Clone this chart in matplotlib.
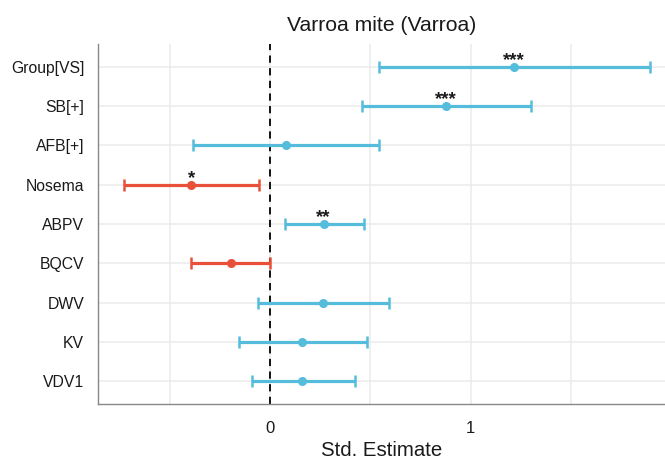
import matplotlib
matplotlib.use("Agg")
import matplotlib.pyplot as plt
import numpy as np

# Model terms, top to bottom
terms = ["Group[VS]", "SB[+]", "AFB[+]", "Nosema", "ABPV", "BQCV", "DWV", "KV", "VDV1"]
estimates = [1.215, 0.875, 0.077, -0.394, 0.266, -0.198, 0.263, 0.158, 0.160]
ci_low = [0.541, 0.456, -0.386, -0.728, 0.073, -0.394, -0.060, -0.158, -0.093]
ci_high = [1.894, 1.299, 0.541, -0.058, 0.467, 0.000, 0.592, 0.481, 0.422]
stars = ["***", "***", "", "*", "**", "", "", "", ""]

x_ticks = [0, 1]
x_minor = [-0.5, 0.5, 1.5]

BLUE = "#55BDDB"
RED = "#E8503A"
TEXT = "#1A1A1A"

plt.rcParams["font.family"] = ["Liberation Sans", "DejaVu Sans"]

fig = plt.figure(figsize=(6.65, 4.61), dpi=100)
ax = fig.add_axes([0.1474, 0.1236, 0.8526, 0.781])

n = len(terms)
ypos = np.arange(n, 0, -1)

for y, est, lo, hi, s in zip(ypos, estimates, ci_low, ci_high, stars):
    col = BLUE if est > 0 else RED
    ax.errorbar(est, y, xerr=[[est - lo], [hi - est]], fmt="o", color=col,
                ecolor=col, elinewidth=2.3, capsize=4, capthick=1.8,
                markersize=5.5, zorder=3)
    if s:
        ax.annotate(s, (est, y), xytext=(0, 1.2), textcoords="offset points",
                    ha="center", va="baseline", fontsize=13.5,
                    fontweight="bold", color=TEXT, zorder=4)

ax.axvline(0, color="black", linestyle=(0, (4, 3)), linewidth=1.3, zorder=2)

ax.set_xlim(-0.859, 1.969)
ax.set_ylim(0.42, n + 0.58)

ax.set_yticks(ypos)
ax.set_yticklabels(terms, fontsize=11.3, color=TEXT)
ax.set_xticks(x_ticks)
ax.set_xticklabels([str(t) for t in x_ticks], fontsize=12, color=TEXT)
ax.set_xticks(x_minor, minor=True)

ax.grid(True, which="major", color="#EBEBEB", linewidth=1.1, zorder=0)
ax.grid(True, which="minor", axis="x", color="#EBEBEB", linewidth=1.1, zorder=0)
ax.set_axisbelow(True)

ax.tick_params(axis="both", which="both", length=0)
ax.tick_params(axis="x", pad=12)
ax.tick_params(axis="y", pad=10)

for side in ["top", "right"]:
    ax.spines[side].set_visible(False)
for side in ["left", "bottom"]:
    ax.spines[side].set_color("#888888")
    ax.spines[side].set_linewidth(1.0)

ax.set_xlabel("Std. Estimate", fontsize=14.7, color=TEXT, labelpad=4)
ax.set_title("Varroa mite (Varroa)", fontsize=15.2, color=TEXT, pad=9)

fig.savefig("out.png", dpi=100)
